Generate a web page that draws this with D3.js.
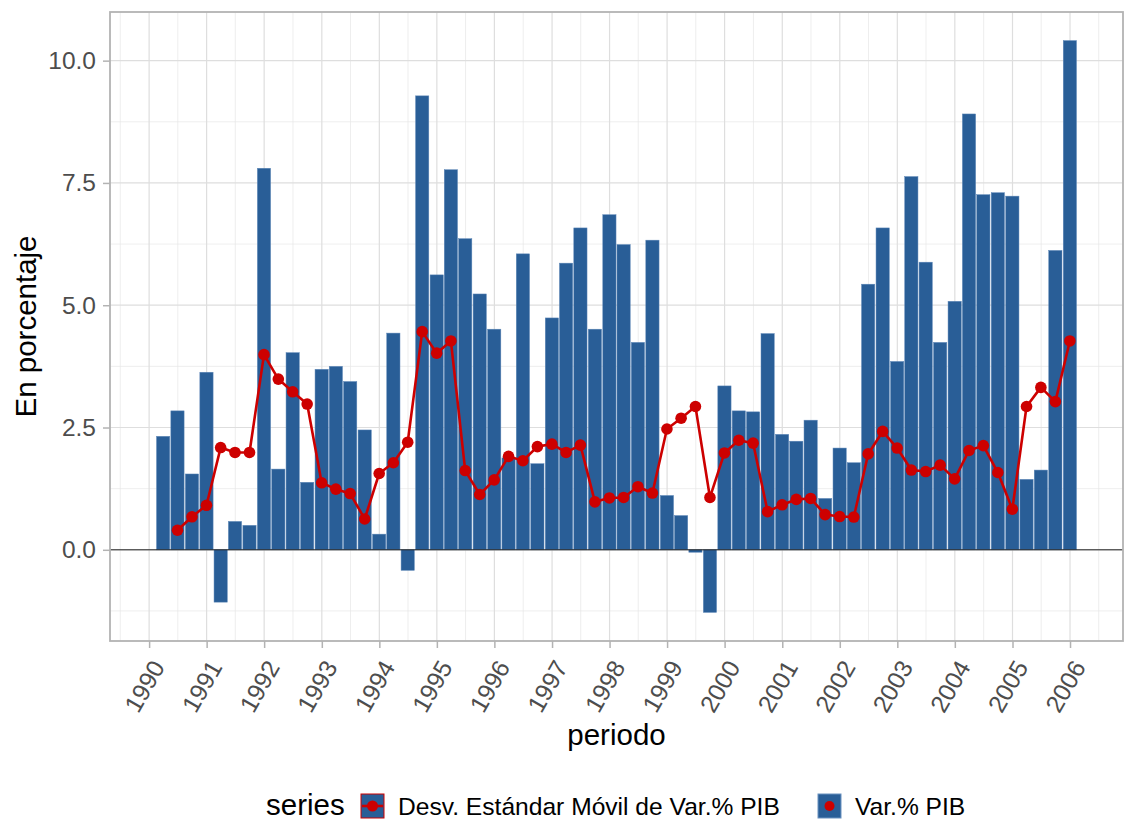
<!DOCTYPE html>
<html>
<head>
<meta charset="utf-8">
<script src="https://cdn.jsdelivr.net/npm/d3@7"></script>
<style>
  body { margin: 0; background: #fff; }
  svg { display: block; font-family: "Liberation Sans", Arial, sans-serif; }
</style>
</head>
<body>
<div id="chart"></div>
<script>
// Var.% PIB, quarterly 1990Q1 - 2005Q4
const pibValues = [
  2.32, 2.84, 1.55, 3.63, -1.07, 0.58, 0.50, 7.80,
  1.65, 4.03, 1.38, 3.69, 3.75, 3.44, 2.45, 0.32,
  4.43, -0.42, 9.28, 5.62, 7.77, 6.36, 5.23, 4.51,
  1.88, 6.05, 1.76, 4.74, 5.86, 6.58, 4.51, 6.85,
  6.24, 4.24, 6.33, 1.11, 0.70, -0.05, -1.28, 3.35,
  2.84, 2.82, 4.42, 2.36, 2.22, 2.65, 1.05, 2.08,
  1.78, 5.43, 6.58, 3.85, 7.63, 5.88, 4.24, 5.08,
  8.91, 7.26, 7.30, 7.23, 1.44, 1.63, 6.12, 10.41
];
// Desv. Estándar Móvil de Var.% PIB, from 1990Q2
const stdValues = [
  0.40, 0.675, 0.91, 2.09, 1.99, 1.99, 3.99,
  3.49, 3.23, 2.98, 1.37, 1.24, 1.15, 0.63,
  1.56, 1.78, 2.20, 4.46, 4.02, 4.27, 1.62, 1.13,
  1.43, 1.91, 1.82, 2.11, 2.16, 1.99, 2.14, 0.98,
  1.06, 1.07, 1.29, 1.16, 2.47, 2.69, 2.93, 1.07,
  1.98, 2.24, 2.18, 0.78, 0.92, 1.03, 1.05, 0.72,
  0.68, 0.67, 1.96, 2.42, 2.08, 1.63, 1.60, 1.73,
  1.45, 2.03, 2.13, 1.58, 0.83, 2.93, 3.32, 3.03, 4.27
];
const firstYear = 1990;
const yearTicks = d3.range(1990, 2007);
const yTicks = [0, 2.5, 5, 7.5, 10];
const yMinor = [-1.25, 1.25, 3.75, 6.25, 8.75];
const seriesNames = ["Desv. Estándar Móvil de Var.% PIB", "Var.% PIB"];

const width = 1125, height = 822;
const panel = { left: 110, right: 1123, top: 12, bottom: 641 };
const barColor = "#295E97";
const lineColor = "#CD0000";

// quarter end dates
const periods = pibValues.map((v, i) =>
  d3.utcDay.offset(d3.utcMonth.offset(new Date(Date.UTC(firstYear, 3, 1)), 3 * i), -1)
);
const pib = pibValues.map((v, i) => ({ date: periods[i], value: v }));
const std = stdValues.map((v, i) => ({ date: periods[i + 1], value: v }));

const svg = d3.select("#chart").append("svg")
  .attr("width", width)
  .attr("height", height);

// scales with ggplot-like 5% expansion
const halfBar = 45 * 864e5;
const t0 = +periods[0] - halfBar, t1 = +periods[periods.length - 1] + halfBar;
const tExp = (t1 - t0) * 0.05;
const x = d3.scaleUtc()
  .domain([new Date(t0 - tExp), new Date(t1 + tExp)])
  .range([panel.left, panel.right]);

const allVals = pibValues.concat(stdValues);
const vMin = d3.min(allVals), vMax = d3.max(allVals);
const vExp = (vMax - vMin) * 0.05;
const y = d3.scaleLinear()
  .domain([vMin - vExp, vMax + vExp])
  .range([panel.bottom, panel.top]);

// grid
const grid = svg.append("g");
const xMinor = yearTicks.map(yr => new Date(Date.UTC(yr - 1, 6, 2)))
  .concat([new Date(Date.UTC(2006, 6, 2))]);
grid.selectAll(".hmin").data(yMinor).enter().append("line")
  .attr("x1", panel.left).attr("x2", panel.right)
  .attr("y1", d => y(d)).attr("y2", d => y(d))
  .attr("stroke", "#E6E6E6").attr("stroke-width", 0.7);
grid.selectAll(".vmin").data(xMinor).enter().append("line")
  .attr("x1", d => x(d)).attr("x2", d => x(d))
  .attr("y1", panel.top).attr("y2", panel.bottom)
  .attr("stroke", "#E6E6E6").attr("stroke-width", 0.7);
grid.selectAll(".hmaj").data(yTicks).enter().append("line")
  .attr("x1", panel.left).attr("x2", panel.right)
  .attr("y1", d => y(d)).attr("y2", d => y(d))
  .attr("stroke", "#DEDEDE").attr("stroke-width", 1.2);
grid.selectAll(".vmaj").data(yearTicks).enter().append("line")
  .attr("x1", d => x(new Date(Date.UTC(d, 0, 1)))).attr("x2", d => x(new Date(Date.UTC(d, 0, 1))))
  .attr("y1", panel.top).attr("y2", panel.bottom)
  .attr("stroke", "#DEDEDE").attr("stroke-width", 1.2);

// bars
const barHalf = 42 * 864e5;
svg.append("g").selectAll("rect").data(pib).enter().append("rect")
  .attr("x", d => x(new Date(+d.date - barHalf)))
  .attr("width", d => x(new Date(+d.date + barHalf)) - x(new Date(+d.date - barHalf)))
  .attr("y", d => y(Math.max(0, d.value)))
  .attr("height", d => Math.abs(y(d.value) - y(0)))
  .attr("fill", barColor)
  .attr("stroke", "#5F88B8")
  .attr("stroke-width", 0.5);

// zero line
svg.append("line")
  .attr("x1", panel.left).attr("x2", panel.right)
  .attr("y1", y(0)).attr("y2", y(0))
  .attr("stroke", "#222").attr("stroke-width", 1);

// moving std line + points
const line = d3.line().x(d => x(d.date)).y(d => y(d.value));
svg.append("path").datum(std)
  .attr("d", line)
  .attr("fill", "none")
  .attr("stroke", lineColor)
  .attr("stroke-width", 2.6)
  .attr("stroke-linejoin", "round");
svg.append("g").selectAll("circle").data(std).enter().append("circle")
  .attr("cx", d => x(d.date))
  .attr("cy", d => y(d.value))
  .attr("r", 5.8)
  .attr("fill", lineColor);

// panel border
svg.append("rect")
  .attr("x", panel.left).attr("y", panel.top)
  .attr("width", panel.right - panel.left).attr("height", panel.bottom - panel.top)
  .attr("fill", "none").attr("stroke", "#B3B3B3").attr("stroke-width", 1.8);

// y axis
const yAxis = svg.append("g")
  .attr("transform", `translate(${panel.left},0)`)
  .call(d3.axisLeft(y).tickValues(yTicks).tickFormat(d3.format(".1f")).tickSize(7).tickPadding(7));
yAxis.select(".domain").remove();
yAxis.selectAll(".tick line").attr("stroke", "#B3B3B3").attr("stroke-width", 1.5);
yAxis.selectAll(".tick text")
  .attr("fill", "#4D4D4D")
  .style("font-size", "24.5px")
  .style("font-family", "'Liberation Sans', Arial, sans-serif");

// x axis
const xAxis = svg.append("g")
  .attr("transform", `translate(0,${panel.bottom})`)
  .call(d3.axisBottom(x).tickValues(yearTicks.map(yr => new Date(Date.UTC(yr, 0, 1))))
    .tickFormat(d3.utcFormat("%Y")).tickSize(7));
xAxis.select(".domain").remove();
xAxis.selectAll(".tick line").attr("stroke", "#B3B3B3").attr("stroke-width", 1.5);
xAxis.selectAll(".tick text")
  .attr("fill", "#4D4D4D")
  .attr("y", 0).attr("dy", 0)
  .attr("text-anchor", "end")
  .attr("transform", "translate(16,26) rotate(-60)")
  .style("font-size", "24.5px")
  .style("font-family", "'Liberation Sans', Arial, sans-serif");

// axis titles
svg.append("text")
  .attr("x", (panel.left + panel.right) / 2)
  .attr("y", 745)
  .attr("text-anchor", "middle")
  .style("font-size", "29.5px")
  .text("periodo");
svg.append("text")
  .attr("transform", `translate(36,${(panel.top + panel.bottom) / 2}) rotate(-90)`)
  .attr("text-anchor", "middle")
  .style("font-size", "29.5px")
  .text("En porcentaje");

// legend
const legend = svg.append("g");
legend.append("text")
  .attr("x", 266).attr("y", 815)
  .style("font-size", "29.5px")
  .text("series");

const keyX = [361, 818];
const key = legend.selectAll(".key").data(seriesNames).enter().append("g")
  .attr("transform", (d, i) => `translate(${keyX[i]},794)`);
key.append("rect")
  .attr("width", 23).attr("height", 24)
  .attr("fill", barColor)
  .attr("stroke", (d, i) => i === 0 ? lineColor : "#6A92C0")
  .attr("stroke-width", 1);
key.filter((d, i) => i === 0).append("line")
  .attr("x1", 1).attr("x2", 22).attr("y1", 12).attr("y2", 12)
  .attr("stroke", lineColor).attr("stroke-width", 2.6);
key.append("circle")
  .attr("cx", 11.5).attr("cy", 12)
  .attr("r", (d, i) => i === 0 ? 5.5 : 5)
  .attr("fill", lineColor);
key.append("text")
  .attr("x", 37).attr("y", 21)
  .style("font-size", "24.6px")
  .text(d => d);
</script>
</body>
</html>
